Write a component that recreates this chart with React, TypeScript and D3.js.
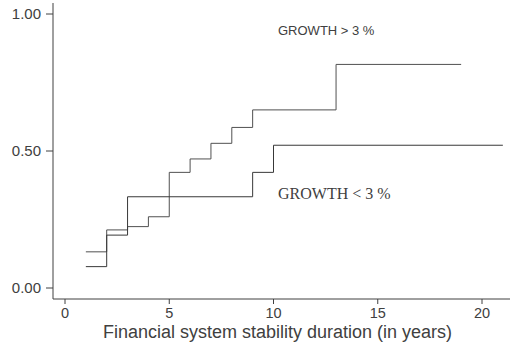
import React from "react";
import * as d3 from "d3";

// Cumulative share by stability duration (years), step functions
const highGrowthYears = [1, 2, 3, 4, 5, 6, 7, 8, 9, 13, 19];
const highGrowthShare = [0.132, 0.212, 0.224, 0.26, 0.422, 0.471, 0.528, 0.586, 0.65, 0.816, 0.816];
const lowGrowthYears = [1, 2, 3, 9, 10, 21];
const lowGrowthShare = [0.078, 0.193, 0.333, 0.422, 0.521, 0.521];

const xTicks = [0, 5, 10, 15, 20];
const yTicks = [0, 0.5, 1];
const yTickLabels = ["0.00", "0.50", "1.00"];

const highLabel = "GROWTH > 3 %";
const lowLabel = "GROWTH < 3 %";
const xTitle = "Financial system stability duration (in years)";

const W = 510;
const H = 342;
const axisColor = "#404040";
const textColor = "#404040";
const sans = "'Liberation Sans', Arial, sans-serif";
const serif = "'Liberation Serif', 'Times New Roman', serif";

export default function App() {
  const x = d3.scaleLinear().domain([0, 20]).range([65, 482]);
  const y = d3.scaleLinear().domain([0, 1]).range([288, 14]);

  const step = d3
    .line<[number, number]>()
    .x((d) => x(d[0]))
    .y((d) => y(d[1]))
    .curve(d3.curveStepAfter);

  const highPts = highGrowthYears.map((t, i) => [t, highGrowthShare[i]] as [number, number]);
  const lowPts = lowGrowthYears.map((t, i) => [t, lowGrowthShare[i]] as [number, number]);

  const axisX0 = 53;
  const axisY0 = 299;

  return (
    <svg
      width={W}
      height={H}
      viewBox={`0 0 ${W} ${H}`}
      style={{ position: "absolute", left: 0, top: 0, background: "#fff" }}
    >
      {/* y axis */}
      <line x1={axisX0} x2={axisX0} y1={3} y2={axisY0} stroke={axisColor} strokeWidth={1} />
      {yTicks.map((t, i) => (
        <g key={`yt${i}`}>
          <line x1={axisX0 - 7} x2={axisX0} y1={y(t)} y2={y(t)} stroke={axisColor} strokeWidth={1} />
          <text
            x={41}
            y={y(t)}
            dy="0.36em"
            textAnchor="end"
            fontFamily={sans}
            fontSize={15}
            fill={textColor}
          >
            {yTickLabels[i]}
          </text>
        </g>
      ))}

      {/* x axis */}
      <line x1={axisX0} x2={W} y1={axisY0} y2={axisY0} stroke={axisColor} strokeWidth={1} />
      {xTicks.map((t) => (
        <g key={`xt${t}`}>
          <line x1={x(t)} x2={x(t)} y1={axisY0} y2={axisY0 + 5} stroke={axisColor} strokeWidth={1} />
          <text
            x={x(t)}
            y={317.5}
            textAnchor="middle"
            fontFamily={sans}
            fontSize={14.5}
            fill={textColor}
          >
            {t}
          </text>
        </g>
      ))}
      <text x={277.5} y={337.5} textAnchor="middle" fontFamily={sans} fontSize={18} fill={textColor}>
        {xTitle}
      </text>

      {/* step curves */}
      <path d={step(highPts) ?? ""} fill="none" stroke="#505050" strokeWidth={1} />
      <path d={step(lowPts) ?? ""} fill="none" stroke="#383838" strokeWidth={1} />

      {/* series labels */}
      <text x={278} y={35} fontFamily={sans} fontSize={13} fill={textColor}>
        {highLabel}
      </text>
      <text x={278} y={199} fontFamily={serif} fontSize={16} fill={textColor}>
        {lowLabel}
      </text>
    </svg>
  );
}
